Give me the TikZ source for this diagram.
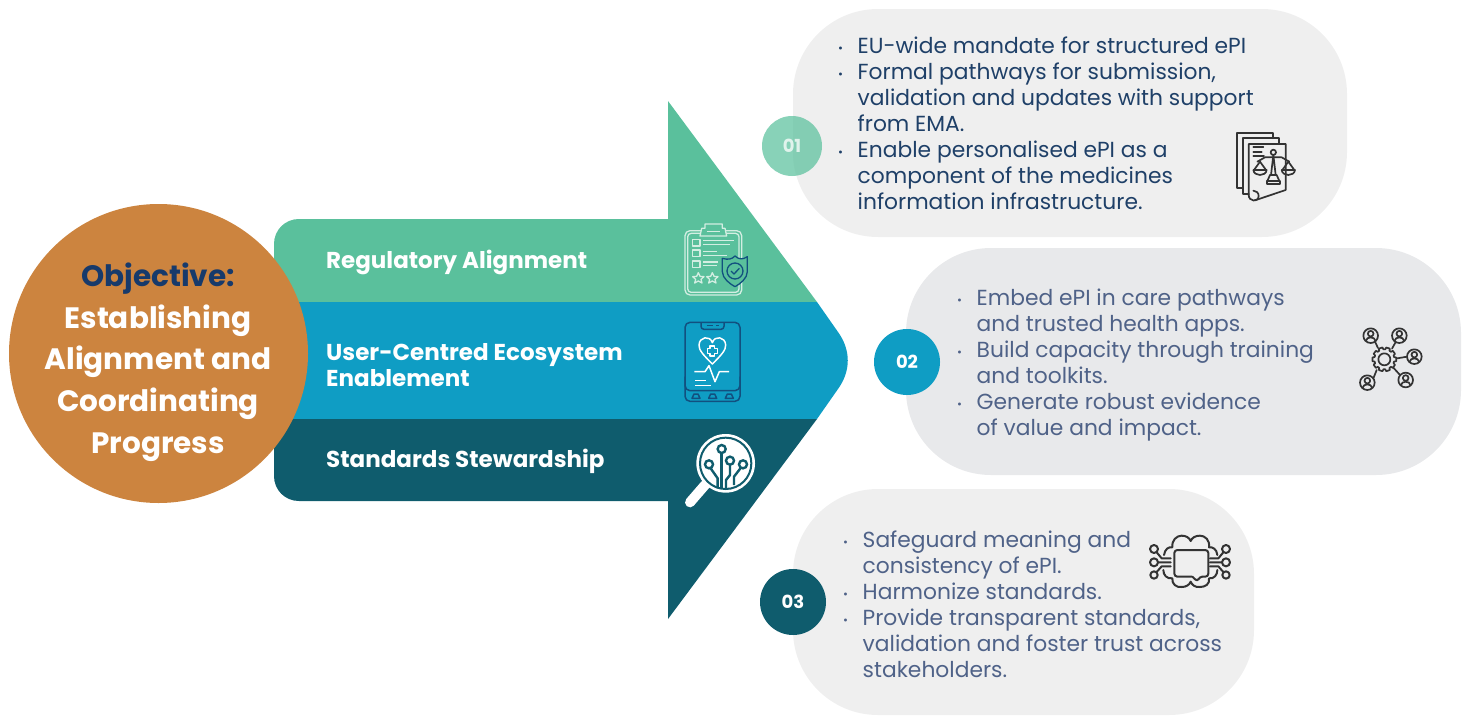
\documentclass[tikz,border=0pt]{standalone}
\usepackage{fontspec}
\setmainfont{Poppins}
\definecolor{cgreen}{HTML}{5AC09C}
\definecolor{cblue}{HTML}{0F9DC4}
\definecolor{cteal}{HTML}{0F5C6D}
\definecolor{corange}{HTML}{CC843F}
\definecolor{cnavy}{HTML}{173A6B}
\definecolor{cpillA}{HTML}{EFEFEF}
\definecolor{cpillB}{HTML}{E8E9EB}
\definecolor{ctextA}{HTML}{1F4068}
\definecolor{ctextB}{HTML}{4F6288}
\definecolor{cicon}{HTML}{333333}
\definecolor{cpale}{HTML}{D3EEE2}
\definecolor{cdkblue}{HTML}{12507F}
\newcommand{\bul}{\makebox[19.5pt][l]{\fontsize{12}{26}\selectfont\raisebox{1.5pt}{•}}}
\newcommand{\ind}{\hspace*{19.5pt}}
\newcommand{\person}[2]{%
  \draw (#1,#2) circle (22);
  \draw (#1,#2-6) circle (8.5);
  \draw (#1-14,#2+15) .. controls (#1-13,#2+2) and (#1+13,#2+2) .. (#1+14,#2+15);
}
\tikzset{
  x=1pt,y=-1pt,
  pill/.style={rounded corners=85pt},
  blocktext/.style={anchor=north west,align=left,inner sep=0pt,font=\fontsize{21.8}{26}\selectfont},
  bandtext/.style={anchor=west,align=left,inner sep=0pt,text=white,font=\fontsize{23}{26.5}\selectfont\bfseries},
  numcircle/.style={circle,minimum size=66pt,inner sep=0pt,text=white,font=\fontsize{18}{20}\selectfont\bfseries},
  iconA/.style={draw=cicon,line width=1.7pt,line join=round,line cap=round},
}
\begin{document}
\begin{tikzpicture}
\useasboundingbox (0,0) rectangle (1469,715);
% pills
\fill[cpillA,pill] (793,9) rectangle (1347,237);
\fill[cpillB,pill] (906,248) rectangle (1461,475);
\fill[cpillA,pill] (793,489) rectangle (1254,715);
% arrow
\fill[cgreen] (817,302) -- (274,302) -- (274,244) .. controls (274,230) and (285,219) .. (299,219) -- (668,219) -- (668,101) -- cycle;
\fill[cblue] (274,302) -- (817,302) -- (838,332) .. controls (851,350) and (851,371) .. (838,389) -- (817,419) -- (274,419) -- cycle;
\fill[cteal] (274,419) -- (817,419) -- (668,619) -- (668,501) -- (299,501) .. controls (285,501) and (274,490) .. (274,476) -- cycle;
% objective
\node[circle,fill=corange,minimum size=299pt,inner sep=0pt] (objective) at (158.5,353.5) {};
\node[align=center,inner sep=0pt,text=white,font=\fontsize{29.5}{41.75}\selectfont\bfseries] (objectivetext) at (158,362) {\textcolor{cnavy}{Objective:}\\Establishing\\Alignment and\\Coordinating\\Progress};
% band labels
\node[bandtext] (bandA) at (326,262) {Regulatory Alignment};
\node[bandtext] (bandB) at (326,365) {User-Centred Ecosystem\\Enablement};
\node[bandtext] (bandC) at (326,461) {Standards Stewardship};
% numbers
\node[numcircle,minimum size=60pt,fill=cgreen,fill opacity=.72,text opacity=.75] (n1) at (792,146) {01};
\node[numcircle,fill=cblue] (n2) at (907,362) {02};
\node[numcircle,fill=cteal] (n3) at (793,602) {03};
% texts
\node[blocktext,text=ctextA] (t1) at (838,37) {\bul EU-wide mandate for structured ePI\\\bul Formal pathways for submission,\\\ind validation and updates with support\\\ind from EMA.\\\bul Enable personalised ePI as a\\\ind component of the medicines\\\ind information infrastructure.};
\node[blocktext,text=ctextB] (t2) at (957,289) {\bul Embed ePI in care pathways\\\ind and trusted health apps.\\\bul Build capacity through training\\\ind and toolkits.\\\bul Generate robust evidence\\\ind of value and impact.};
\node[blocktext,text=ctextB] (t3) at (843,531) {\bul Safeguard meaning and\\\ind consistency of ePI.\\\bul Harmonize standards.\\\bul Provide transparent standards,\\\ind validation and foster trust across\\\ind stakeholders.};
% icon: clipboard
\begin{scope}[shift={(660,210)},scale=1/3,draw=cpale,line width=1.3pt,line join=round]
\draw[rounded corners=5pt] (75,62) rectangle (245,255);
\draw[rounded corners=3.5pt] (83,70) rectangle (237,247);
\filldraw[fill=cgreen] (120,78) -- (125,55) -- (135,55) -- (135,42) -- (187,42) -- (187,55) -- (195,55) -- (200,78) -- cycle;
\draw (140,65) -- (180,65);
\draw (98,88) rectangle (120,108) (98,120) rectangle (120,140) (98,153) rectangle (120,172);
\draw (130,92) -- (222,92) (130,103) -- (210,103) (130,125) -- (170,125) (130,136) -- (200,136) (130,156) -- (175,156) (130,167) -- (170,167);
\draw (115,188) -- (120,199) -- (132,200) -- (123,208) -- (126,219) -- (115,213) -- (104,219) -- (107,208) -- (98,200) -- (110,199) -- cycle;
\draw (157,188) -- (162,199) -- (174,200) -- (165,208) -- (168,219) -- (157,213) -- (146,219) -- (149,208) -- (140,200) -- (152,199) -- cycle;
\filldraw[draw=cdkblue,fill=cgreen] (187,145) .. controls (205,150) and (215,148) .. (225,138) .. controls (235,148) and (248,150) .. (262,140) -- (262,185) .. controls (262,205) and (240,222) .. (225,230) .. controls (210,222) and (187,205) .. (187,185) -- cycle;
\draw[cdkblue] (225,183) circle (24);
\draw[cdkblue] (213,183) -- (222,192) -- (238,175);
\end{scope}
% icon: phone
\begin{scope}[shift={(660,310)},scale=1/3,line join=round,line width=1.5pt]
\draw[cdkblue,rounded corners=5pt] (75,37) rectangle (240,274);
\draw[cdkblue,rounded corners=5pt] (75,200) -- (75,242) -- (240,242) -- (240,200);
\draw[cdkblue,rounded corners=3pt] (123,37) -- (123,58) -- (192,58) -- (192,37);
\draw[cdkblue] (140,47) -- (160,47) (168,47) -- (177,47);
\foreach \bx in {108,158,208}{\draw[cdkblue] (\bx-12,265) -- (\bx-6,252) -- (\bx+6,252) -- (\bx+12,265) -- cycle;}
\draw[white] (157,162) .. controls (130,135) and (116,120) .. (117,105) .. controls (118,80) and (150,75) .. (157,98) .. controls (164,75) and (196,80) .. (197,105) .. controls (198,120) and (184,135) .. (157,162) -- cycle;
\draw[white] (150,108) -- (164,108) -- (164,116) -- (172,116) -- (172,130) -- (164,130) -- (164,138) -- (150,138) -- (150,130) -- (142,130) -- (142,116) -- (150,116) -- cycle;
\draw[white] (103,185) -- (135,185) -- (147,167) -- (165,215) -- (178,185) -- (207,185);
\draw[white] (105,212) -- (138,212) (105,226) -- (153,226);
\end{scope}
% icon: magnifier
\begin{scope}[shift={(670,425)},scale=1/3]
\draw[white,line width=10pt,line cap=round] (105,180) -- (60,232);
\fill[white] (167,115) circle (88);
\draw[cteal,line width=2pt] (167,115) circle (77);
\begin{scope}[cteal,line width=2.4pt]
\draw (155,72) circle (12);
\draw (180,107) circle (12);
\draw (117,118) circle (12);
\draw (219,118) circle (12);
\draw (155,85) -- (155,190);
\draw (180,120) -- (180,150) -- (168,165) -- (168,190);
\draw (122,130) -- (143,160) -- (143,190);
\draw (212,129) -- (192,155) -- (192,180);
\end{scope}
\end{scope}
% icon: documents and scales
\begin{scope}[shift={(1220,120)},scale=1/3,iconA]
\draw (68,205) -- (50,205) -- (50,38) -- (158,38) -- (158,55);
\draw (86,222) -- (68,222) -- (68,55) -- (176,55) -- (176,72);
\draw (86,225) -- (86,72) -- (197,72) -- (197,210) -- (105,241);
\draw (86,225) .. controls (86,245) and (115,248) .. (116,228) .. controls (116,218) and (108,212) .. (100,212);
\draw (100,82) -- (130,82) (100,95) -- (125,95) (100,108) -- (132,108);
\draw (160,97) circle (8);
\draw (160,105) -- (153,165) (160,105) -- (167,165);
\draw (112,125) -- (135,112) -- (185,112) -- (208,125);
\draw (100,150) -- (140,150) .. controls (138,170) and (102,170) .. (100,150);
\draw (185,150) -- (225,150) .. controls (223,170) and (187,170) .. (185,150);
\draw (120,125) -- (102,150) (120,125) -- (138,150) (205,125) -- (187,150) (205,125) -- (223,150);
\draw (150,165) -- (170,165) -- (178,183) -- (142,183) -- cycle;
\draw (140,183) rectangle (180,193);
\end{scope}
% icon: gear and people
\begin{scope}[shift={(1350,320)},scale=1/3,iconA]
\draw (103,118) circle (18);
\begin{scope}[shift={(103,118)}]
\draw (0:36) -- (9:36) -- (13:30) \foreach \a in {36,72,...,324}{ -- (\a-13:30) -- (\a-9:36) -- (\a+9:36) -- (\a+13:30)} -- (-13:30) -- (-9:36) -- cycle;
\end{scope}
\person{62}{47}
\person{148}{47}
\person{193}{110}
\person{167}{180}
\person{52}{188}
\draw (75,65) -- (84,84) (137,66) -- (126,86) (171,110) -- (142,115) (150,165) -- (130,143) (70,175) -- (80,150);
\end{scope}
% icon: brain and chat
\begin{scope}[shift={(1140,525)},scale=1/3,iconA,line width=2pt]
\draw[rounded corners=3pt] (155,155) -- (103,155) -- (103,75) -- (205,75) -- (205,155) -- (178,155) -- (173,170) -- (157,155);
\draw (72,90) .. controls (75,72) and (85,65) .. (97,67) .. controls (95,45) and (110,32) .. (125,32) .. controls (138,32) and (148,38) .. (152,48) .. controls (156,38) and (166,32) .. (180,32) .. controls (195,32) and (210,45) .. (207,67) .. controls (218,65) and (230,72) .. (232,90);
\draw (70,135) .. controls (70,150) and (80,162) .. (97,160) .. controls (95,178) and (110,188) .. (125,186) .. controls (138,186) and (148,180) .. (152,170) .. controls (156,180) and (166,188) .. (180,186) .. controls (195,186) and (210,178) .. (207,160) .. controls (222,162) and (232,150) .. (232,135);
\draw (42,72) circle (12) (42,112) circle (12) (42,150) circle (11);
\draw (258,72) circle (12) (258,112) circle (12) (258,150) circle (11);
\draw (50,82) -- (65,100) -- (92,100) (55,112) -- (92,112) (50,141) -- (65,124) -- (92,124);
\draw (250,82) -- (235,100) -- (210,100) (245,112) -- (210,112) (250,141) -- (235,124) -- (210,124);
\end{scope}
\end{tikzpicture}
\end{document}
